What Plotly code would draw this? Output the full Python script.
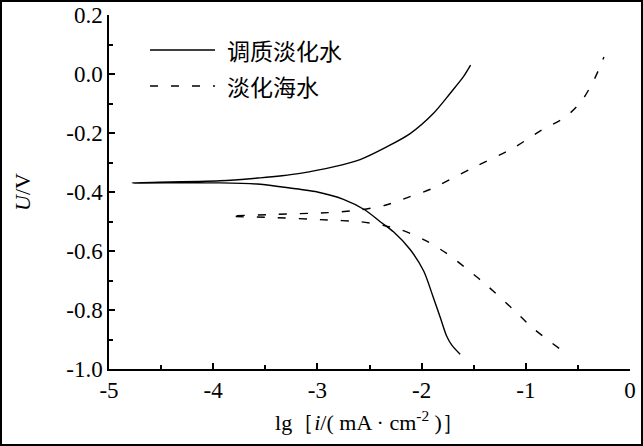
import plotly.graph_objects as go

# 调质淡化水 (solid)
s1_anodic_x = [-4.78, -3.935, -3.55, -3.34, -3.167, -2.847, -2.59, -2.335, -2.11, -1.888, -1.727, -1.60, -1.53]
s1_anodic_y = [-0.369, -0.362, -0.352, -0.345, -0.337, -0.315, -0.290, -0.247, -0.202, -0.134, -0.066, -0.010, 0.030]
s1_cath_x = [-3.935, -3.58, -3.34, -3.0, -2.75, -2.543, -2.40, -2.27, -2.11, -1.98, -1.89, -1.82, -1.76, -1.71, -1.63]
s1_cath_y = [-0.369, -0.373, -0.383, -0.400, -0.425, -0.461, -0.500, -0.535, -0.595, -0.668, -0.755, -0.826, -0.888, -0.919, -0.950]

# 淡化海水 (dashed)
s2_anodic_x = [-3.84, -3.41, -2.90, -2.62, -2.35, -2.13, -1.91, -1.52, -1.13, -0.853, -0.617, -0.46, -0.34, -0.25]
s2_anodic_y = [-0.482, -0.476, -0.470, -0.462, -0.445, -0.418, -0.390, -0.320, -0.253, -0.191, -0.145, -0.089, -0.016, 0.058]
s2_cath_x = [-3.84, -3.455, -2.90, -2.58, -2.35, -2.19, -1.97, -1.76, -1.55, -1.36, -1.13, -0.93, -0.68]
s2_cath_y = [-0.482, -0.486, -0.495, -0.501, -0.515, -0.529, -0.563, -0.608, -0.665, -0.721, -0.795, -0.862, -0.930]

s1_x = s1_cath_x[::-1] + s1_anodic_x
s1_y = s1_cath_y[::-1] + s1_anodic_y
s2_x = s2_cath_x[::-1] + s2_anodic_x[1:]
s2_y = s2_cath_y[::-1] + s2_anodic_y[1:]

names = ["调质淡化水", "淡化海水"]
dashes = ["solid", "8px,13px"]

fig = go.Figure()
fig.add_trace(go.Scatter(x=s1_x, y=s1_y, mode="lines", name=names[0], showlegend=False,
                         line=dict(color="black", width=1.4, shape="spline", smoothing=0.8)))
fig.add_trace(go.Scatter(x=s2_x, y=s2_y, mode="lines", name=names[1], showlegend=False,
                         line=dict(color="black", width=1.4, dash=dashes[1], shape="spline", smoothing=0.8)))

W, H = 643, 446
L, R, T, B = 109, 13, 15, 77
pw, ph = W - L - R, H - T - B

def px(x):
    return (x - L) / pw

def py(y):
    return 1 - (y - T) / ph

# legend drawn by hand (longer line samples as in the reference)
for i, (nm, ds) in enumerate(zip(names, dashes)):
    yy = 50 + 36 * i
    fig.add_shape(type="line", xref="paper", yref="paper", x0=px(150), x1=px(215),
                  y0=py(yy), y1=py(yy), line=dict(color="black", width=1.4, dash=ds))
    fig.add_annotation(xref="paper", yref="paper", x=px(225), y=py(yy), text=nm,
                       showarrow=False, xanchor="left", yanchor="middle",
                       font=dict(family="Noto Sans CJK SC", size=23, color="black"))

serif = "Liberation Serif, Times New Roman, serif"
fig.update_layout(
    width=W, height=H,
    margin=dict(l=L, r=R, t=T, b=B, autoexpand=False),
    paper_bgcolor="white", plot_bgcolor="white",
    font=dict(family=serif, color="black", size=22),
    showlegend=False,
    xaxis=dict(range=[-5, 0], tickvals=[-5, -4, -3, -2, -1, 0],
               ticktext=["-5", "-4", "-3", "-2", "-1", "0"],
               ticks="inside", ticklen=6, tickwidth=1.5, tickcolor="black",
               minor=dict(dtick=0.5, ticks="inside", ticklen=4, tickwidth=1.5, tickcolor="black"),
               showline=True, linecolor="black", linewidth=1.5, showgrid=False, zeroline=False,
               automargin=False,
               tickfont=dict(family=serif, size=23, color="black"),
               title=dict(text="lg［<i>i</i>/( mA · cm<sup>-2</sup> )］", standoff=12,
                          font=dict(family=serif, size=22, color="black"))),
    yaxis=dict(range=[-1.0, 0.2], tickvals=[-1.0, -0.8, -0.6, -0.4, -0.2, 0.0, 0.2],
               ticktext=["-1.0", "-0.8", "-0.6", "-0.4", "-0.2", "0.0", "0.2"],
               ticks="inside", ticklen=6, tickwidth=1.5, tickcolor="black",
               minor=dict(dtick=0.1, ticks="inside", ticklen=4, tickwidth=1.5, tickcolor="black"),
               showline=True, linecolor="black", linewidth=1.5, showgrid=False, zeroline=False,
               automargin=False,
               tickfont=dict(family=serif, size=23, color="black"),
               title=dict(text="<i>U</i>/V", standoff=30, font=dict(family=serif, size=22, color="black"))),
)

# outer frame around the whole image
fig.add_shape(type="rect", xref="paper", yref="paper",
              x0=px(1), x1=px(W - 1), y0=py(H - 1), y1=py(1),
              line=dict(color="black", width=2), layer="above")

fig.write_html("out.html", config={"displayModeBar": False},
               post_script="document.body.style.margin='0';document.body.style.overflow='hidden';")
